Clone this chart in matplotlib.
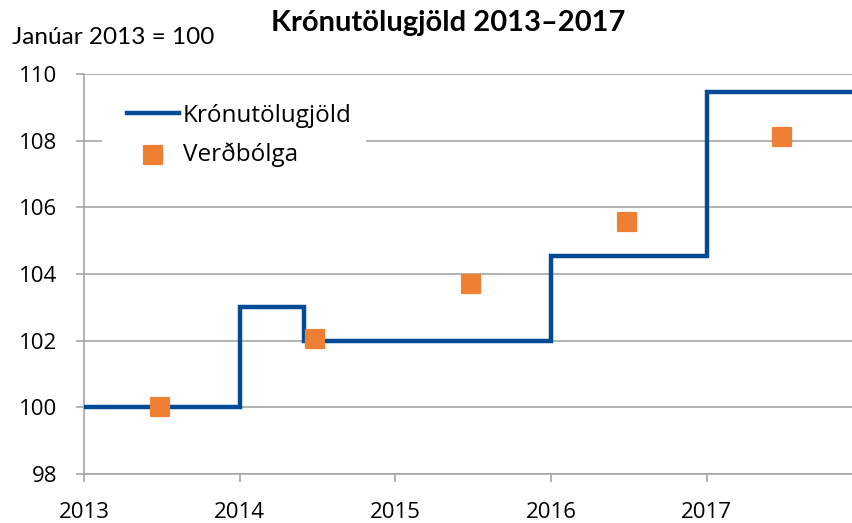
import matplotlib
matplotlib.use("Agg")
import matplotlib.pyplot as plt
from matplotlib.patches import Rectangle

# Data (decimal years)
step_x = [2013.0, 2014.0, 2014.413, 2016.0, 2017.0, 2017.94]
step_y = [100.0, 103.0, 102.0, 104.55, 109.45, 109.45]
infl_x = [2013.487, 2014.487, 2015.487, 2016.487, 2017.487]
infl_y = [100.0, 102.05, 103.7, 105.55, 108.1]
xticks = [2013, 2014, 2015, 2016, 2017]
yticks = [98, 100, 102, 104, 106, 108, 110]

blue = "#034a94"
orange = "#ef7f33"
grid = "#a6a6a6"
W, H = 853, 523

fig = plt.figure(figsize=(W/100, H/100), dpi=100)
ax = fig.add_axes([84/W, 1-474/H, 1-84/W, (474-74)/H])

ax.step(step_x, step_y, where="post", color=blue, lw=3.2, label="Krónutölugjöld",
        solid_joinstyle="miter", zorder=3)
sc = ax.scatter(infl_x, infl_y, marker="s", s=180, color=orange, edgecolor=orange,
                linewidth=1.6, zorder=4, label="Verðbólga")
sc.set_joinstyle("round")

ax.set_xlim(2013, 2017.94)
ax.set_ylim(98, 110)
ax.set_xticks(xticks)
ax.set_yticks(yticks)
ax.set_xticklabels([str(t) for t in xticks], fontsize=16, family="Open Sans")
ax.set_yticklabels([str(t) for t in yticks], fontsize=16, family="Open Sans")
ax.yaxis.grid(True, color=grid, lw=1.2, zorder=0.5)
ax.set_axisbelow(True)
for s in ["top", "right"]:
    ax.spines[s].set_visible(False)
for s in ["left", "bottom"]:
    ax.spines[s].set_color(grid)
    ax.spines[s].set_linewidth(1.2)
ax.tick_params(axis="both", color=grid, width=1.2, length=6, direction="out")
ax.tick_params(axis="x", pad=14)
ax.tick_params(axis="y", pad=13)

# white legend background covering gridlines
ax.add_patch(Rectangle((102/W, 1-178/H), (366-102)/W, (178-86)/H,
                       transform=fig.transFigure, facecolor="white",
                       edgecolor="none", zorder=1))

leg = ax.legend(loc="upper left", bbox_to_anchor=(127/W, 1-104/H),
                bbox_transform=fig.transFigure, frameon=False,
                prop={"family": "Open Sans", "size": 17.5}, handlelength=2.15,
                handletextpad=0.15, labelspacing=0.6, borderpad=0, borderaxespad=0)

fig.text(448/W, 1-23/H, "Krónutölugjöld 2013–2017", ha="center", va="center",
         fontsize=21, fontweight="bold", family="Lato")
fig.text(12/W, 1-38/H, "Janúar 2013 = 100", ha="left", va="center",
         fontsize=17.5, family="Lato")

fig.savefig("out.png", dpi=100)
